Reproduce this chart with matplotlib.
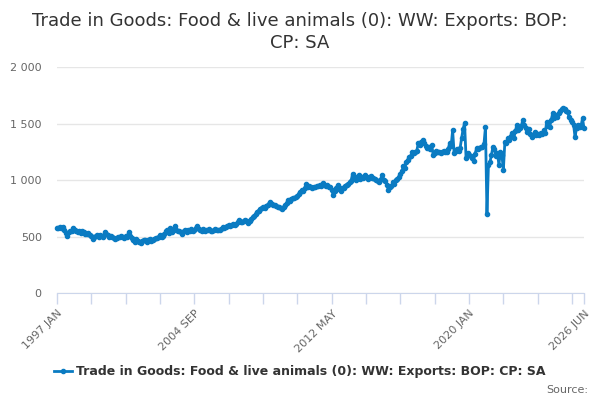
import matplotlib
matplotlib.use("Agg")
import matplotlib.pyplot as plt
import pandas as pd
from matplotlib.lines import Line2D

title = "Trade in Goods: Food & live animals (0): WW: Exports: BOP:\nCP: SA"
series_name = "Trade in Goods: Food & live animals (0): WW: Exports: BOP: CP: SA"

months = pd.date_range("1997-01-01", "2026-06-01", freq="MS")
categories = [d.strftime("%Y %b").upper() for d in months]

values = [
    # 1997
    578, 572, 580, 576, 585, 560, 530, 505, 540, 552, 548, 575,
    # 1998
    560, 548, 540, 545, 530, 552, 538, 525, 520, 530, 512, 505,
    # 1999
    480, 495, 502, 510, 500, 515, 508, 498, 540, 520, 512, 500,
    # 2000
    505, 495, 488, 478, 490, 500, 496, 505, 498, 490, 502, 495,
    # 2001
    540, 505, 490, 470, 455, 475, 462, 450, 445, 458, 472, 465,
    # 2002
    455, 468, 480, 462, 470, 478, 490, 485, 498, 513, 495, 505,
    # 2003
    520, 545, 560, 530, 575, 540, 555, 590, 560, 545, 550, 538,
    # 2004
    520, 545, 555, 540, 560, 548, 570, 552, 560, 575, 595, 565,
    # 2005
    560, 550, 565, 548, 555, 560, 570, 552, 548, 560, 565, 555,
    # 2006
    560, 555, 570, 580, 575, 588, 595, 600, 590, 605, 612, 600,
    # 2007
    615, 630, 645, 625, 632, 640, 650, 638, 620, 635, 655, 670,
    # 2008
    680, 695, 715, 730, 740, 755, 760, 748, 770, 775, 790, 805,
    # 2009
    790, 780, 775, 770, 760, 765, 752, 745, 760, 780, 800, 820,
    # 2010
    815, 830, 845, 838, 850, 860, 875, 890, 910, 905, 930, 965,
    # 2011
    940, 950, 935, 930, 942, 938, 945, 950, 955, 948, 975, 960,
    # 2012
    945, 952, 935, 940, 910, 870, 900, 930, 955, 920, 905, 925,
    # 2013
    930, 945, 960, 965, 980, 995, 1055, 1020, 1000, 1030, 1045, 1010,
    # 2014
    1025, 1015, 1040, 1030, 1010, 1025, 1035, 1020, 1015, 1008, 1000, 995,
    # 2015
    980, 1005, 1045, 1000, 990, 960, 910, 935, 950, 980, 965, 1000,
    # 2016
    1010, 1030, 1050, 1080, 1120, 1105, 1160, 1175, 1200, 1210, 1250, 1235,
    # 2017
    1245, 1260, 1325, 1310, 1340, 1355, 1330, 1300, 1280, 1295, 1270, 1310,
    # 2018
    1220, 1240, 1255, 1245, 1250, 1238, 1245, 1260, 1248, 1250, 1275, 1325,
    # 2019
    1300, 1440, 1240, 1255, 1270, 1260, 1280, 1370, 1450, 1505, 1195, 1240,
    # 2020
    1220, 1210, 1195, 1170, 1230, 1280, 1270, 1285, 1290, 1295, 1320, 1470,
    # 2021
    700, 1135, 1160, 1220, 1295, 1270, 1215, 1240, 1135, 1250, 1220, 1090,
    # 2022
    1340, 1330, 1370, 1355, 1390, 1415, 1370, 1430, 1490, 1445, 1460, 1480,
    # 2023
    1530, 1490, 1460, 1425, 1450, 1410, 1380, 1400, 1425, 1395, 1410, 1400,
    # 2024
    1420, 1405, 1440, 1415, 1515, 1480, 1470, 1530, 1590, 1545, 1575, 1560,
    # 2025
    1590, 1610, 1625, 1640, 1630, 1610, 1600, 1560, 1530, 1510, 1490, 1380,
    # 2026
    1460, 1490, 1470, 1480, 1545, 1460,
]

y_ticks = [0, 500, 1000, 1500, 2000]
y_tick_labels = ["0", "500", "1 000", "1 500", "2 000"]

color = "#0a7bc2"
grid_c = "#e6e6e6"
axis_c = "#ccd6eb"
text_c = "#666666"

fig = plt.figure(figsize=(6, 4), dpi=100)
ax = fig.add_axes([57/600, 1-293/400, (584-57)/600, (293-67)/400])

x = list(range(len(values)))
ax.plot(x, values, color=color, lw=2, marker="o", ms=3, mec=color, mfc=color, zorder=3, clip_on=False)

ax.set_xlim(0, len(values)-1)
ax.set_ylim(0, 2000)
ax.set_yticks(y_ticks)
ax.set_yticklabels(y_tick_labels, color=text_c, fontsize=8)
ax.yaxis.grid(True, color=grid_c, lw=1)
ax.set_axisbelow(True)
ax.tick_params(axis="y", length=0, pad=11)

n = len(values)
tick_pos = list(range(0, n, 23))
if tick_pos[-1] != n-1:
    tick_pos.append(n-1)
label_pos = {0, 92, 184, 276, n-1}
ax.set_xticks(tick_pos)
ax.set_xticklabels([categories[p] if p in label_pos else "" for p in tick_pos],
                   rotation=45, ha="right", rotation_mode="anchor", color=text_c, fontsize=8)
ax.tick_params(axis="x", length=8, color=axis_c, width=1, pad=3)

for s in ["top", "right", "left"]:
    ax.spines[s].set_visible(False)
ax.spines["bottom"].set_color(axis_c)

fig.text(0.5, 1-12/400, title,
         ha="center", va="top", fontsize=13, color="#333333", linespacing=1.3)

handle = Line2D([0], [0], color=color, lw=2, marker="o", ms=3)
fig.legend([handle], [series_name], loc="center", bbox_to_anchor=(0.5, 1-372/400),
           frameon=False, prop={"size": 9, "weight": "bold"}, labelcolor="#333333",
           handlelength=1.4, handletextpad=0.4)

fig.text(588/600, 1-390/400, "Source:", ha="right", va="center", fontsize=8, color=text_c)

fig.savefig("out.png", dpi=100)
